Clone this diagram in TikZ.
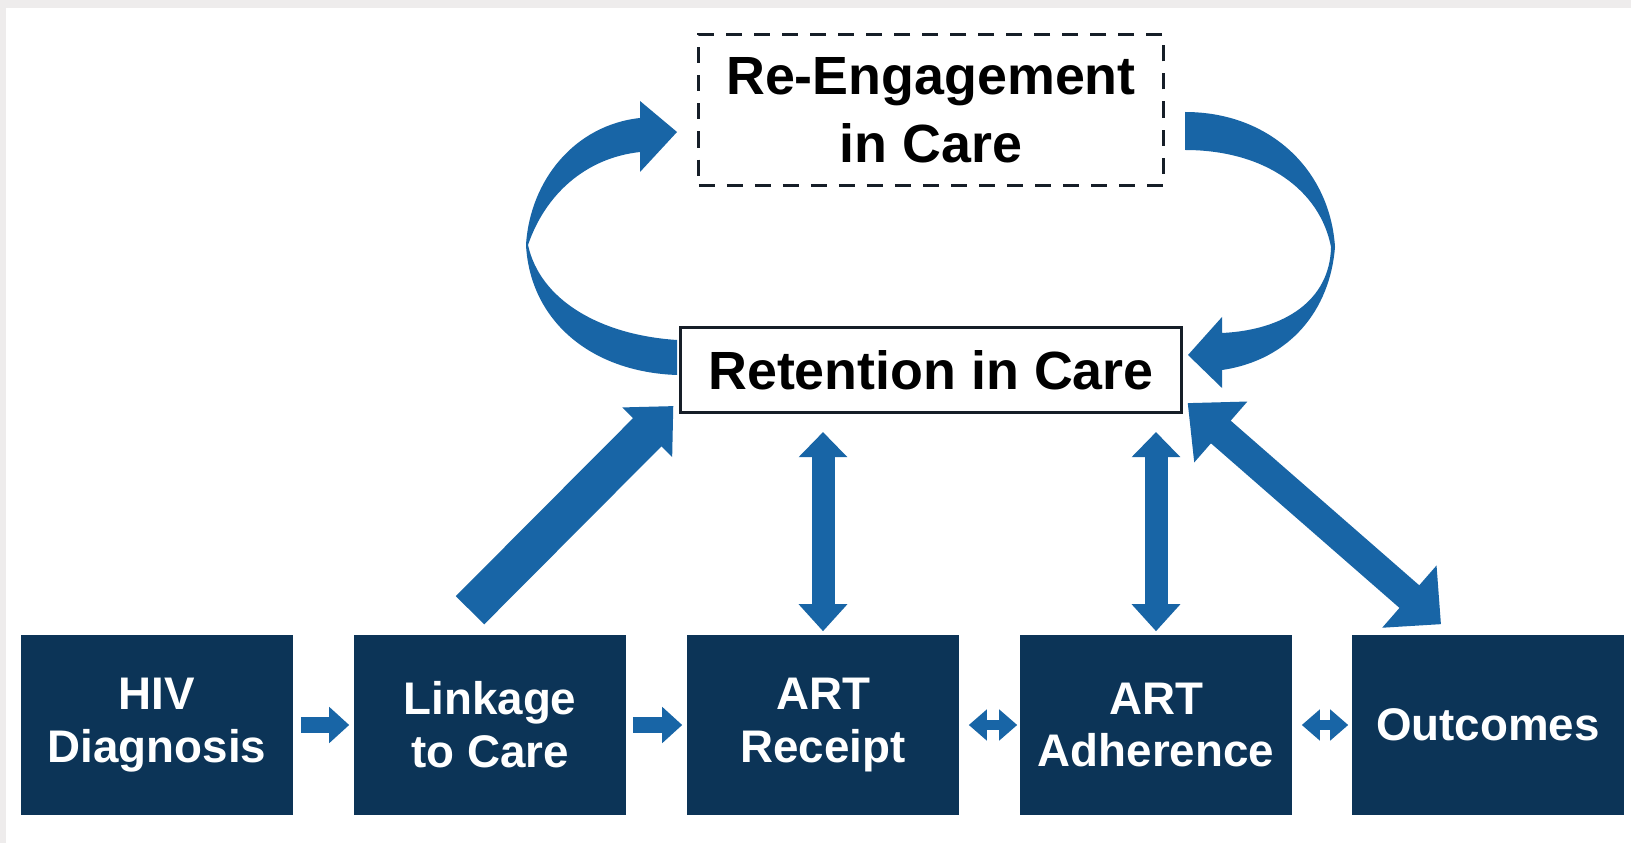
\documentclass[tikz,border=0pt]{standalone}
\usepackage{fontspec}
\setmainfont{Liberation Sans}
\usetikzlibrary{arrows.meta}
\definecolor{navybox}{RGB}{12,52,87}
\definecolor{flowblue}{RGB}{24,101,166}
\definecolor{rimgray}{RGB}{238,236,236}
\definecolor{edgeink}{RGB}{22,30,40}
\begin{document}
\begin{tikzpicture}[x=0.01cm,y=-0.01cm,
    stage/.style={fill=navybox,text=white,minimum width=2.72cm,minimum height=1.80cm,inner sep=0pt,align=center,
      font=\fontsize{13}{15}\selectfont\bfseries},
    retbox/.style={draw=edgeink,fill=white,line width=0.03cm,minimum width=5.0cm,minimum height=0.85cm,inner sep=0pt,
      font=\fontsize{15.3}{19}\selectfont\bfseries},
    reengbox/.style={draw=edgeink,dash pattern=on 0.16cm off 0.12cm,line width=0.03cm,minimum width=4.64cm,minimum height=1.51cm,
      inner sep=0pt,align=center,font=\fontsize{15.3}{19.3}\selectfont\bfseries},
    flow/.style={flowblue,line width=0.16cm,-{Triangle[length=0.2cm,width=0.35cm]}},
    twoway/.style={flowblue,line width=0.10cm,{Triangle[length=0.18cm,width=0.30cm]}-{Triangle[length=0.18cm,width=0.30cm]}},
    updown/.style={flowblue,line width=0.23cm,{Triangle[length=0.25cm,width=0.47cm]}-{Triangle[length=0.27cm,width=0.47cm]}},
    bigflow/.style={flowblue,line width=0.40cm,-{Triangle[length=0.37cm,width=0.68cm]}},
    bigtwoway/.style={flowblue,line width=0.30cm,{Triangle[length=0.44cm,width=0.78cm]}-{Triangle[length=0.42cm,width=0.80cm]}}]
    \useasboundingbox (0,0) rectangle (1631,843);
    \fill[rimgray] (0,0) rectangle (1631,843);
    \fill[white] (6,8) rectangle (1631,843);

    \node[stage] (hiv) at (157,725) {HIV\\Diagnosis};
    \node[stage] (link) at (490,725) {Linkage\\to Care};
    \node[stage] (rec) at (823,725) {ART\\Receipt};
    \node[stage] (adh) at (1156,725) {ART\\Adherence};
    \node[stage] (out) at (1488,725) {Outcomes};
    \node[retbox] (ret) at (931,370) {Retention in Care};
    \node[reengbox] (reeng) at (931,110) {Re-Engagement\\in Care};

    \draw[flow,shorten <=0.07cm,shorten >=0.04cm] (hiv) -- (link);
    \draw[flow,shorten <=0.06cm,shorten >=0.04cm] (link) -- (rec);
    \draw[twoway,shorten <=0.09cm,shorten >=0.02cm] (rec) -- (adh);
    \draw[twoway,shorten <=0.09cm,shorten >=0.03cm] (adh) -- (out);
    \draw[updown,shorten <=0.18cm,shorten >=0.03cm] (ret.south -| rec) -- (rec.north);
    \draw[updown,shorten <=0.18cm,shorten >=0.03cm] (ret.south -| adh) -- (adh.north);
    \draw[bigflow] ([shift={(-20,-24)}]link.north) -- ([shift={(-6,-8)}]ret.south west);
    \draw[bigtwoway] ([shift={(5,-11)}]ret.south east) -- ([shift={(-47,-10)}]out.north);

    \fill[flowblue] (677,340) .. controls (600,335) and (540,300) .. (528,245)
      .. controls (545,195) and (585,158) .. (640,152) -- (640,172) -- (677,132) -- (640,101) -- (640,118)
      .. controls (575,125) and (530,180) .. (526,245) .. controls (530,320) and (590,372) .. (677,375) -- cycle;
    \fill[flowblue] (1185,112) .. controls (1270,112) and (1330,170) .. (1335,247)
      .. controls (1330,310) and (1290,360) .. (1222,370) -- (1222,388) -- (1188,355) -- (1222,317) -- (1222,333)
      .. controls (1285,330) and (1330,300) .. (1331,247) .. controls (1320,190) and (1265,150) .. (1185,150) -- cycle;
\end{tikzpicture}
\end{document}
